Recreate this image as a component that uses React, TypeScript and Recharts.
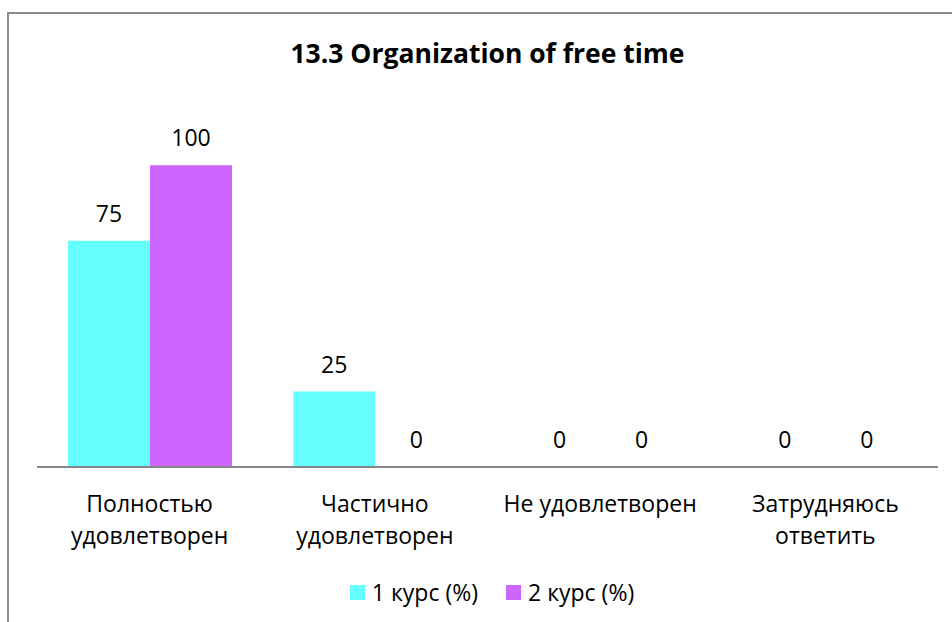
import { BarChart, Bar, XAxis, YAxis, LabelList, Legend } from 'recharts';

const title = '13.3 Organization of free time';
const categories = [
  'Полностью\nудовлетворен',
  'Частично\nудовлетворен',
  'Не удовлетворен',
  'Затрудняюсь\nответить',
];
const course1 = [75, 25, 0, 0];
const course2 = [100, 0, 0, 0];
const seriesNames = ['1 курс (%)', '2 курс (%)'];
const seriesColors = ['#66FFFF', '#CC66FF'];

const data = categories.map((name, i) => ({ name, c1: course1[i], c2: course2[i] }));

const FONT = '"Open Sans", sans-serif';
const FS = 23;

const CategoryTick = ({ x, y, payload }: any) => {
  const lines = String(payload.value).split('\n');
  return (
    <text x={x} y={y} textAnchor="middle" fontSize={FS} fill="#000" fontFamily={FONT}>
      {lines.map((line, i) => (
        <tspan key={i} x={x} dy={i === 0 ? 45 : 32}>
          {line}
        </tspan>
      ))}
    </text>
  );
};

const LegendContent = () => (
  <div style={{ display: 'flex', justifyContent: 'center', gap: 28, fontFamily: FONT, fontSize: FS }}>
    {seriesNames.map((name, i) => (
      <div key={name} style={{ display: 'flex', alignItems: 'center' }}>
        <span style={{ width: 15, height: 15, background: seriesColors[i], marginRight: 7 }} />
        <span>{name}</span>
      </div>
    ))}
  </div>
);

export default function App() {
  return (
    <div style={{ position: 'absolute', left: 0, top: 0, width: 952, height: 622, background: '#fff', overflow: 'hidden' }}>
      <div
        style={{
          position: 'absolute',
          left: 7,
          top: 12,
          width: 960,
          height: 640,
          borderLeft: '2px solid #8c8c8c',
          borderTop: '2px solid #8c8c8c',
        }}
      />
      <div
        style={{
          position: 'absolute',
          left: 0,
          top: 35,
          width: 975,
          textAlign: 'center',
          fontFamily: FONT,
          fontWeight: 700,
          fontSize: 26.5,
          lineHeight: 'normal',
        }}
      >
        {title}
      </div>
      <div style={{ position: 'absolute', left: 0, top: 0 }}>
        <BarChart
          width={952}
          height={622}
          data={data}
          margin={{ top: 105, right: 14, left: 37, bottom: 85 }}
          barGap={0}
        >
          <XAxis
            dataKey="name"
            axisLine={{ stroke: '#868686', strokeWidth: 2 }}
            tickLine={false}
            tickSize={0}
            tickMargin={0}
            interval={0}
            height={70}
            tick={<CategoryTick />}
          />
          <YAxis hide domain={[0, 120]} />
          <Legend
            content={<LegendContent />}
            wrapperStyle={{ position: 'absolute', top: 576, left: 16, width: 952, height: 0, overflow: 'visible' }}
          />
          <Bar dataKey="c1" name={seriesNames[0]} fill={seriesColors[0]} barSize={82} minPointSize={0.01} isAnimationActive={false}>
            <LabelList dataKey="c1" position="top" offset={19} fontSize={FS} fill="#000" fontFamily={FONT} />
          </Bar>
          <Bar dataKey="c2" name={seriesNames[1]} fill={seriesColors[1]} barSize={82} minPointSize={0.01} isAnimationActive={false}>
            <LabelList dataKey="c2" position="top" offset={19} fontSize={FS} fill="#000" fontFamily={FONT} />
          </Bar>
        </BarChart>
      </div>
    </div>
  );
}
